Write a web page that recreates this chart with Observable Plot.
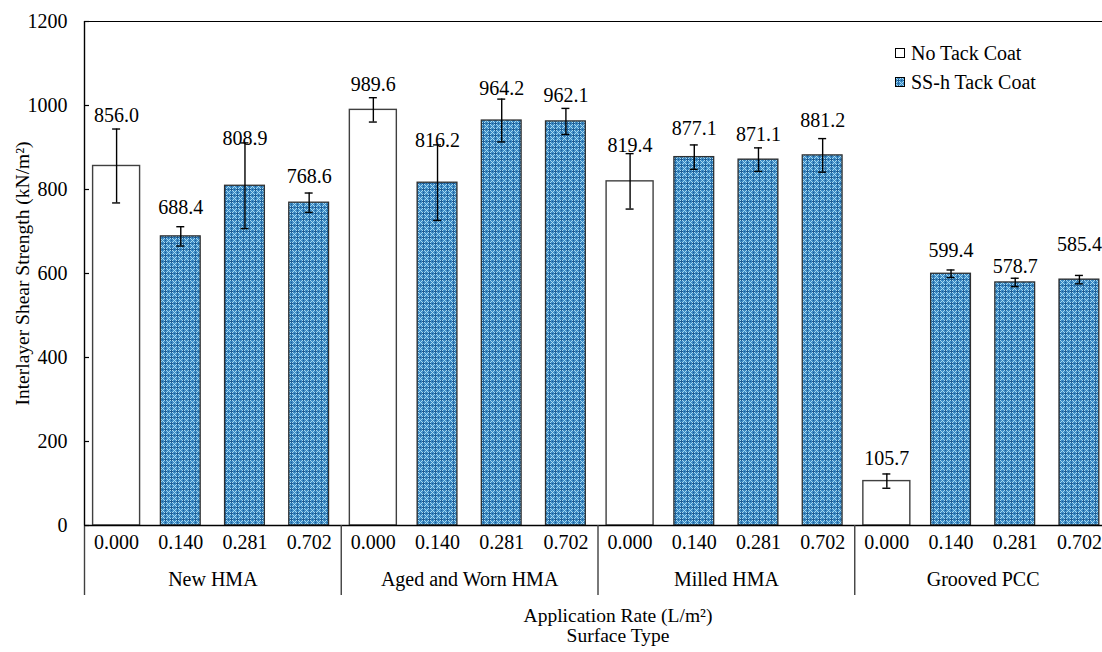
<!DOCTYPE html>
<html><head><meta charset="utf-8">
<script src="https://cdn.jsdelivr.net/npm/d3@7"></script>
<script src="https://cdn.jsdelivr.net/npm/@observablehq/plot@0.6"></script>
<style>
body{margin:0;background:#fff;font-family:'Liberation Serif',serif;}
#wrap{position:relative;width:1102px;height:652px;overflow:hidden;}
#legend{position:absolute;left:895px;top:39px;font-size:20px;color:#000;line-height:29px;font-family:'Liberation Serif',serif;}
.row{display:flex;align-items:center;height:29px;}
.sw{display:block;margin-right:5px;}
</style></head><body><div id="wrap"><div id="legend"></div></div>
<script>
// ---- data ----
const surfaces = ["New HMA", "Aged and Worn HMA", "Milled HMA", "Grooved PCC"];
const rates = ["0.000", "0.140", "0.281", "0.702"];
const seriesNames = ["No Tack Coat", "SS-h Tack Coat"];
const strength = [856.0, 688.4, 808.9, 768.6, 989.6, 816.2, 964.2, 962.1, 819.4, 877.1, 871.1, 881.2, 105.7, 599.4, 578.7, 585.4];
const stdErr = [88, 23, 102, 23, 29, 90, 51, 31, 66, 29, 28, 40, 17, 9, 10, 10];
const labelAt = [976, 758, 921, 831, 1050, 917, 1040, 1024, 905, 945, 931, 964, 160, 655, 617, 669];
const yTicks = [0, 200, 400, 600, 800, 1000, 1200];

const rows = [];
surfaces.forEach((s, g) => rates.forEach((r, k) => {
  const i = g * 4 + k;
  rows.push({i, surface: s, rate: r, series: k === 0 ? seriesNames[0] : seriesNames[1],
    value: strength[i], err: stdErr[i], label: labelAt[i]});
}));
const plain = rows.filter(d => d.series === seriesNames[0]);
const tack = rows.filter(d => d.series === seriesNames[1]);
const caps = rows.flatMap(d => [{i: d.i, y: d.value - d.err}, {i: d.i, y: d.value + d.err}]);
const seps = [-0.5, 3.5, 7.5, 11.5, 15.5];

const NS = "http://www.w3.org/2000/svg";
function defs() {
  const d = document.createElementNS(NS, "defs");
  d.innerHTML = `<pattern id="hatch" width="6" height="6" patternUnits="userSpaceOnUse">
    <rect width="6" height="6" fill="#3c8ac4"/>
    <g fill="#a6d9f1" shape-rendering="crispEdges">
      <rect x="0" y="0" width="1" height="1"/><rect x="1" y="1" width="1" height="1"/>
      <rect x="2" y="2" width="1" height="1"/><rect x="4" y="2" width="1" height="1"/>
      <rect x="5" y="1" width="1" height="1"/><rect x="2" y="4" width="1" height="1"/>
      <rect x="1" y="5" width="1" height="1"/><rect x="4" y="4" width="1" height="1"/>
      <rect x="5" y="5" width="1" height="1"/>
    </g>
    <g fill="#1c5a92" shape-rendering="crispEdges">
      <rect x="3" y="2" width="1" height="3"/><rect x="2" y="3" width="3" height="1"/>
      <rect x="0" y="3" width="1" height="1"/><rect x="3" y="0" width="1" height="1"/>
    </g>
  </pattern>`;
  return d;
}

const fs = 20;
const ft = 19.5;
const serif = "Liberation Serif";
const chart = Plot.plot({
  width: 1102, height: 652,
  marginLeft: 84, marginRight: -9, marginTop: 21, marginBottom: 127,
  style: {fontFamily: serif, fontSize: fs + "px", color: "#000", background: "#fff"},
  x: {domain: [-0.5, 15.5], axis: null},
  y: {domain: [0, 1200], axis: null},
  marks: [
    defs,
    Plot.rect(plain, {x1: d => d.i - 0.366, x2: d => d.i + 0.366, y1: 0, y2: "value", fill: "#fff", stroke: "#404040", strokeWidth: 1.4}),
    Plot.rect(tack, {x1: d => d.i - 0.31, x2: d => d.i + 0.31, y1: 0, y2: "value", fill: "url(#hatch)", stroke: "#303030", strokeWidth: 1.3}),
    Plot.ruleX(rows, {x: "i", y1: d => d.value - d.err, y2: d => d.value + d.err, stroke: "#000", strokeWidth: 1.4}),
    Plot.ruleY(caps, {y: "y", x1: "i", x2: "i", insetLeft: -4, insetRight: -4, stroke: "#000", strokeWidth: 1.4}),
    Plot.ruleY([0], {stroke: "#000", strokeWidth: 1.4}),
    Plot.ruleY([1200], {stroke: "#000", strokeWidth: 1.2}),
    Plot.ruleX([-0.5], {stroke: "#000", strokeWidth: 1.4}),
    Plot.ruleX(seps, {y1: 0, y2: 0, insetBottom: -70, stroke: "#404040", strokeWidth: 1.4}),
    Plot.ruleY(yTicks, {x1: -0.5, x2: -0.5, insetRight: -5, stroke: "#000", strokeWidth: 1.2}),
    Plot.axisY(yTicks, {tickSize: 0, tickPadding: 17, label: null, tickFormat: d => String(d), fontSize: fs, fill: "#000", fontFamily: serif}),
    Plot.text(rows, {x: "i", y: "label", text: d => d.value.toFixed(1), fontSize: fs, fill: "#000", fontFamily: serif}),
    Plot.text(rows, {x: "i", frameAnchor: "bottom", dy: 23, text: "rate", fontSize: fs, fill: "#000", fontFamily: serif}),
    Plot.text(surfaces, {x: (d, g) => g * 4 + 1.5, frameAnchor: "bottom", dy: 60, text: d => d, fontSize: fs, fill: "#000", fontFamily: serif}),
    Plot.text(["Application Rate (L/m²)"], {frameAnchor: "bottom", dx: 20, dy: 96, text: d => d, fontSize: ft, fill: "#000", fontFamily: serif}),
    Plot.text(["Surface Type"], {frameAnchor: "bottom", dx: 20, dy: 116, text: d => d, fontSize: ft, fill: "#000", fontFamily: serif}),
    Plot.text(["Interlayer Shear Strength (kN/m²)"], {frameAnchor: "left", textAnchor: "middle", dx: -62, rotate: -90, text: d => d, fontSize: ft, fill: "#000", fontFamily: serif})
  ]
});
const wrap = document.getElementById("wrap");
wrap.insertBefore(chart, wrap.firstChild);

const legend = document.getElementById("legend");
seriesNames.forEach((name, k) => {
  const row = document.createElement("div");
  row.className = "row";
  const fill = k === 0 ? "#fff" : "url(#hatch)";
  row.innerHTML = `<svg class="sw" width="11" height="11"><rect x="0.5" y="0.5" width="9" height="9" fill="${fill}" stroke="#000" stroke-width="1"/></svg><span>${name}</span>`;
  legend.appendChild(row);
});
</script></body></html>
